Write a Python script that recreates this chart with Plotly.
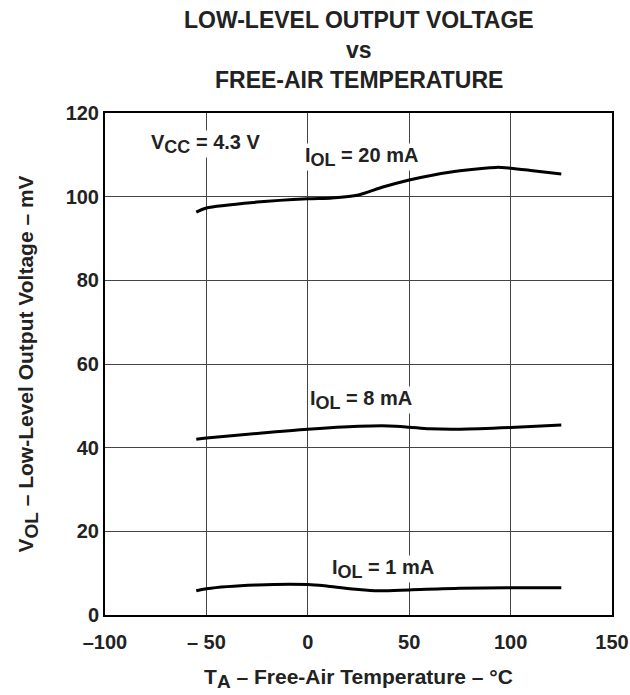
import plotly.graph_objects as go

temp_20ma = [-55, -50, -25, 0, 12, 25, 37, 50, 62, 75, 93, 100, 111, 125]
vol_20ma = [96.3, 97.3, 98.7, 99.5, 99.7, 100.4, 102.3, 104.0, 105.2, 106.2, 107.0, 106.8, 106.2, 105.4]

temp_8ma = [-55, -50, -25, 0, 25, 40, 50, 60, 75, 100, 125]
vol_8ma = [42.0, 42.3, 43.4, 44.4, 45.1, 45.2, 44.9, 44.5, 44.4, 44.8, 45.4]

temp_1ma = [-55, -50, -25, 0, 10, 25, 35, 50, 75, 100, 125]
vol_1ma = [5.8, 6.3, 7.2, 7.3, 6.9, 6.1, 5.8, 6.0, 6.4, 6.5, 6.5]

x_ticks = [-100, -50, 0, 50, 100, 150]
x_ticktext = ["–100", "– 50", "0", "50", "100", "150"]
y_ticks = [0, 20, 40, 60, 80, 100, 120]

FONT = "Liberation Sans"
INK = "#222"
LINE = dict(color="black", width=3, shape="spline", smoothing=0.8)


def sub(txt, size):
    # Index fast so gross wie der Grundtext, wie im Datenblatt
    return f"<sub><span style='font-size:{size}px'>{txt}</span></sub>"


fig = go.Figure()

for tx, vy in [(temp_20ma, vol_20ma), (temp_8ma, vol_8ma), (temp_1ma, vol_1ma)]:
    fig.add_trace(go.Scatter(x=tx, y=vy, mode="lines", line=LINE,
                             showlegend=False, hoverinfo="skip"))

label_font = dict(family=FONT, size=20, color=INK, weight="bold")

# Kurvenbeschriftungen (weisser Hintergrund unterbricht das Gitter)
labels = [
    ("V" + sub("CC", 18) + " = 4.3 V", -50.5, 112.6),
    ("I" + sub("OL", 18) + " = 20 mA", 26.7, 109.5),
    ("I" + sub("OL", 18) + " = 8 mA", 26.2, 51.4),
    ("I" + sub("OL", 18) + " = 1 mA", 37.1, 11.0),
]
for txt, lx, ly in labels:
    fig.add_annotation(x=lx, y=ly, text=txt, showarrow=False,
                       font=label_font, bgcolor="white", borderpad=0)

# Titel in drei Zeilen
title_font = dict(family=FONT, size=23, color=INK, weight="bold")
for txt, py in [("LOW-LEVEL OUTPUT VOLTAGE", 1.185),
                ("vs", 1.1255),
                ("FREE-AIR TEMPERATURE", 1.066)]:
    fig.add_annotation(x=0.5, y=py, xref="paper", yref="paper", text=txt,
                       yanchor="middle", showarrow=False, font=title_font)

axis_common = dict(
    showgrid=True, gridcolor="#444", gridwidth=1,
    showline=True, linecolor="black", linewidth=2, mirror=True,
    zeroline=False, ticks="", automargin=False,
    tickfont=dict(family=FONT, size=20, color=INK, weight="bold"),
)

fig.update_layout(
    width=630, height=695,
    margin=dict(l=105, r=18, t=113, b=80),
    plot_bgcolor="white", paper_bgcolor="white",
    xaxis=dict(
        range=[-100, 150], tickvals=x_ticks, ticktext=x_ticktext,
        ticklabelstandoff=8, ticklabeloverflow="allow",
        title=dict(text="T" + sub("A", 19) + " – Free-Air Temperature – °C",
                   font=dict(family=FONT, size=21, color=INK, weight="bold"),
                   standoff=17),
        **axis_common,
    ),
    yaxis=dict(
        range=[0, 120], tickvals=y_ticks,
        title=dict(text="V" + sub("OL", 19) + " – Low-Level Output Voltage – mV",
                   font=dict(family=FONT, size=21, color=INK, weight="bold"),
                   standoff=26),
        **axis_common,
    ),
)

# Body-Rand entfernen, damit die Grafik genau das Fenster fuellt
fig.write_html("out.html",
               config={"displayModeBar": False},
               post_script="document.body.style.margin='0';document.body.style.overflow='hidden';")
